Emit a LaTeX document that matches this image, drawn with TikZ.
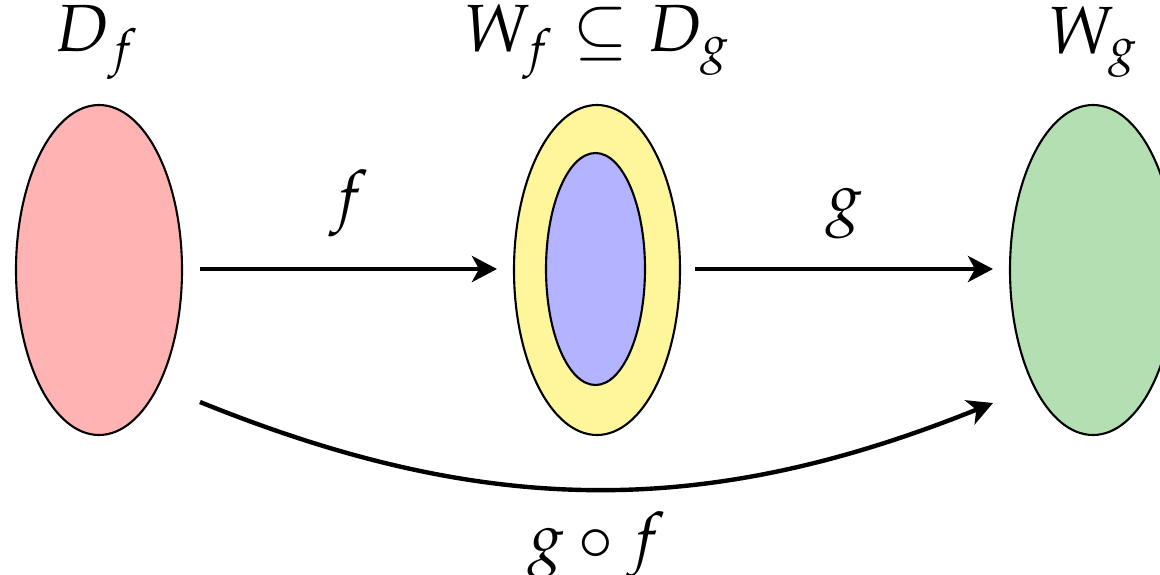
\documentclass[tikz,border=0pt]{standalone}
\usepackage{mathpazo}
\usetikzlibrary{arrows.meta}
\definecolor{cred}{HTML}{FFB3B3}
\definecolor{cyel}{HTML}{FFF69B}
\definecolor{cblu}{HTML}{B3B3FF}
\definecolor{cgrn}{HTML}{B3DFB3}
\tikzset{
  setell/.style={ellipse, draw=black, line width=0.6pt, minimum width=1.66cm, minimum height=3.3cm, inner sep=0pt},
  lab/.style={font=\fontsize{19}{22}\selectfont, inner sep=0pt},
  mapar/.style={line width=1.25pt, -{Stealth[length=0.25cm,width=0.26cm,inset=0.07cm]}}
}
\usetikzlibrary{shapes.geometric}
\begin{document}
\begin{tikzpicture}
\useasboundingbox (0,0) rectangle (11.6,-5.74);
\node[setell, fill=cred] (D) at (0.99,-2.70) {};
\node[setell, fill=cyel] (M) at (5.97,-2.70) {};
\node[ellipse, draw=black, line width=0.6pt, fill=cblu, minimum width=0.99cm, minimum height=2.32cm, inner sep=0pt] (I) at (5.955,-2.69) {};
\node[setell, fill=cgrn] (R) at (10.93,-2.70) {};
\node[lab] (lD) at (0.97,-0.42) {$D_f$};
\node[lab] (lM) at (5.97,-0.42) {$W_f \subseteq D_g$};
\node[lab] (lR) at (10.93,-0.42) {$W_g$};
\coordinate (a1) at (2.00,-2.69);
\coordinate (a2) at (4.97,-2.69);
\coordinate (b1) at (6.95,-2.69);
\coordinate (b2) at (9.93,-2.69);
\coordinate (c1) at (2.00,-4.02);
\coordinate (c2) at (9.93,-4.03);
\draw[mapar] (a1) -- node[lab, above=0.3cm] (lf) {$f$} (a2);
\draw[mapar] (b1) -- node[lab, above=0.28cm] (lg) {$g$} (b2);
\draw[mapar] (c1) to[bend right=22] node[lab, below=0.2cm] (lgf) {$g\circ f$} (c2);
\end{tikzpicture}
\end{document}
